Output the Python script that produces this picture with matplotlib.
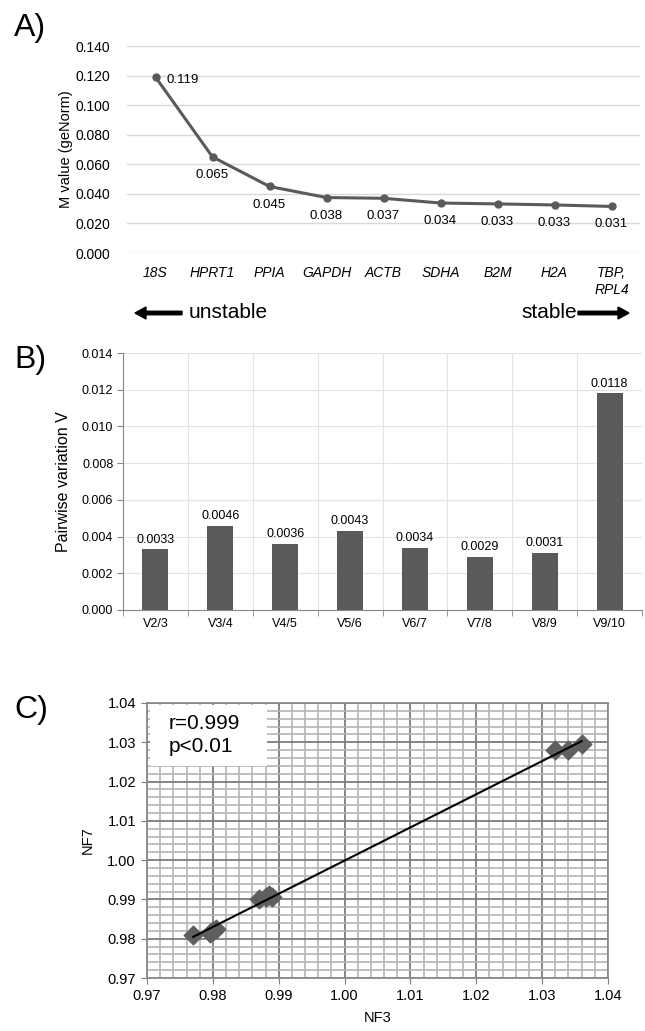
import numpy as np
import matplotlib.pyplot as plt
from matplotlib.patches import FancyArrow, Rectangle
from matplotlib.ticker import MultipleLocator, FormatStrFormatter

plt.rcParams['font.family'] = ['Liberation Sans', 'DejaVu Sans']

# panel A - geNorm M values
genes = ["18S", "HPRT1", "PPIA", "GAPDH", "ACTB", "SDHA", "B2M", "H2A", "TBP,\nRPL4"]
m_values = [0.119, 0.065, 0.045, 0.038, 0.037, 0.034, 0.033, 0.033, 0.031]
m_plot = [0.119, 0.065, 0.045, 0.0375, 0.037, 0.0338, 0.0332, 0.0325, 0.0315]

# panel B - pairwise variation
pairs = ["V2/3", "V3/4", "V4/5", "V5/6", "V6/7", "V7/8", "V8/9", "V9/10"]
pairwise = [0.0033, 0.0046, 0.0036, 0.0043, 0.0034, 0.0029, 0.0031, 0.0118]

# panel C - NF3 vs NF7
nf3 = [0.977, 0.9795, 0.980, 0.9805, 0.987, 0.988, 0.9885, 0.989, 1.032, 1.034, 1.036]
nf7 = [0.981, 0.9815, 0.982, 0.9825, 0.990, 0.9905, 0.9912, 0.9905, 1.028, 1.028, 1.0295]
stats_text = "r=0.999\np<0.01"

W, H = 645, 1031
def box(x0, y0, x1, y1):
    return [x0 / W, 1 - y1 / H, (x1 - x0) / W, (y1 - y0) / H]

fig = plt.figure(figsize=(W / 100, H / 100), dpi=100)
dark = '#5a5a5a'

# ---------- A ----------
ax = fig.add_axes(box(127, 46, 640, 253))
x = np.arange(len(genes))
ax.plot(x, m_plot, color=dark, lw=2.2, marker='o', ms=5)
ax.set_xlim(-0.5, len(genes) - 0.5)
ax.set_ylim(0, 0.14)
yt = np.arange(0, 0.141, 0.02)
ax.set_yticks(yt)
ax.set_yticklabels(["%.3f" % v for v in yt], fontsize=10)
ax.yaxis.grid(True, color='#d9d9d9', lw=1)
ax.set_axisbelow(True)
for s in ax.spines.values():
    s.set_visible(False)
ax.tick_params(axis='y', length=0, pad=12)
ax.tick_params(axis='x', length=0, pad=9)
ax.set_xticks(x)
ax.set_xticklabels(genes, fontsize=10, style='italic', va='top', linespacing=1.3)
ax.set_ylabel("M value (geNorm)", fontsize=10.5, labelpad=2)
for i, (v, p) in enumerate(zip(m_values, m_plot)):
    if i == 0:
        ax.annotate("%.3f" % v, (i, p), xytext=(8, -2), textcoords='offset points',
                    fontsize=9.5, va='center', ha='left')
    else:
        ax.annotate("%.3f" % v, (i, p), xytext=(0, -13), textcoords='offset points',
                    fontsize=9.5, va='center', ha='center')

fig.text(14 / W, 1 - 28 / H, "A)", fontsize=23, va='center')
fig.text(189 / W, 1 - 313 / H, "unstable", fontsize=15, va='center')
fig.text(577 / W, 1 - 313 / H, "stable", fontsize=15, va='center', ha='right')
for x0, dx in [(182, -47), (578, 51)]:
    fig.patches.append(FancyArrow(x0 / W, 1 - 313 / H, dx / W, 0,
                       width=3.5 / H, head_width=12 / H, head_length=11 / W,
                       length_includes_head=True, color='black', transform=fig.transFigure))

# ---------- B ----------
ax = fig.add_axes(box(123, 353, 642, 610))
xb = np.arange(len(pairs))
ax.bar(xb, pairwise, width=0.4, color=dark, zorder=3)
ax.set_xlim(-0.5, len(pairs) - 0.5)
ax.set_ylim(0, 0.014)
yt = np.arange(0, 0.0141, 0.002)
ax.set_yticks(yt)
ax.set_yticklabels(["%.3f" % v for v in yt], fontsize=9)
ax.set_xticks(xb)
ax.set_xticklabels(pairs, fontsize=9)
ax.set_xticks(np.arange(-0.5, len(pairs), 1), minor=True)
ax.yaxis.grid(True, color='#e3e3e3', lw=0.8)
ax.xaxis.grid(True, which='minor', color='#e3e3e3', lw=0.8)
ax.tick_params(axis='x', which='major', length=0, pad=6)
ax.tick_params(axis='x', which='minor', length=4, color='#888888')
ax.tick_params(axis='y', length=4, color='#888888', pad=3)
for side in ['top', 'right']:
    ax.spines[side].set_visible(False)
for side in ['left', 'bottom']:
    ax.spines[side].set_color('#888888')
ax.set_ylabel("Pairwise variation V", fontsize=11.5, labelpad=8)
for i, v in enumerate(pairwise):
    ax.text(i, v + 0.0002, "%.4f" % v, ha='center', va='bottom', fontsize=9)
fig.text(14 / W, 1 - 360 / H, "B)", fontsize=23, va='center')

# ---------- C ----------
ax = fig.add_axes(box(147, 703, 608, 978))
ax.set_xlim(0.97, 1.04)
ax.set_ylim(0.97, 1.04)
ax.xaxis.set_major_locator(MultipleLocator(0.01))
ax.yaxis.set_major_locator(MultipleLocator(0.01))
ax.xaxis.set_minor_locator(MultipleLocator(0.002))
ax.yaxis.set_minor_locator(MultipleLocator(0.002))
ax.grid(True, which='minor', color='#b4b4b4', lw=1.2)
ax.grid(True, which='major', color='#7d7d7d', lw=1.3)
ax.set_axisbelow(True)
ax.tick_params(which='minor', length=0)
ax.tick_params(which='major', length=4, color='#7d7d7d', labelsize=10.5, pad=4)
for s in ax.spines.values():
    s.set_color('#8a8a8a')
    s.set_linewidth(1.3)
ax.xaxis.set_major_formatter(FormatStrFormatter('%.2f'))
ax.yaxis.set_major_formatter(FormatStrFormatter('%.2f'))
ax.scatter(nf3, nf7, marker='D', s=90, color='#5f5f5f', zorder=3)
k, b = np.polyfit(nf3, nf7, 1)
xl = np.array([min(nf3), max(nf3)])
ax.plot(xl, k * xl + b, color='black', lw=1.5, zorder=4)
ax.add_patch(Rectangle((0.9705, 1.024), 0.0177, 0.0155, facecolor='white',
                       edgecolor='none', zorder=2.5))
ax.text(0.9733, 1.0318, stats_text, fontsize=15, va='center', ha='left',
        linespacing=1.25, zorder=5)
ax.set_xlabel("NF3", fontsize=10.5, labelpad=6)
ax.set_ylabel("NF7", fontsize=10.5, labelpad=9)
fig.text(14 / W, 1 - 710 / H, "C)", fontsize=23, va='center')

fig.savefig("out.png", dpi=100)
